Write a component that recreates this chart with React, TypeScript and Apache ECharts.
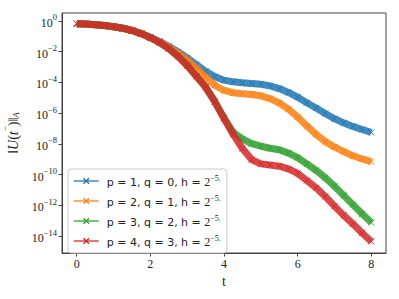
import { useEffect, useRef } from "react";
import * as echarts from "echarts";

// t values (time)
const tValues = [
  0, 0.25, 0.5, 0.75, 1, 1.25, 1.5, 1.75, 2, 2.25, 2.5, 2.75, 3, 3.25, 3.5, 3.75, 4,
  4.25, 4.5, 4.75, 5, 5.25, 5.5, 5.75, 6, 6.25, 6.5, 6.75, 7, 7.25, 7.5, 7.75, 8,
];

// log10 of ||U(t^-)||_A
const blueLog10 = [
  -0.18, -0.2, -0.25, -0.3, -0.37, -0.47, -0.62, -0.82, -1.08, -1.33, -1.65, -2.0, -2.4,
  -2.83, -3.27, -3.62, -3.85, -3.96, -4.02, -4.07, -4.12, -4.22, -4.4, -4.65, -4.96,
  -5.32, -5.66, -6.02, -6.36, -6.63, -6.86, -7.06, -7.25,
];
const orangeLog10 = [
  -0.18, -0.2, -0.25, -0.3, -0.37, -0.47, -0.62, -0.82, -1.08, -1.35, -1.7, -2.1, -2.55,
  -3.08, -3.65, -4.18, -4.52, -4.67, -4.73, -4.78, -4.87, -5.05, -5.33, -5.74, -6.25,
  -6.83, -7.38, -7.85, -8.2, -8.5, -8.77, -8.98, -9.15,
];
const greenLog10 = [
  -0.18, -0.2, -0.25, -0.3, -0.37, -0.47, -0.62, -0.82, -1.08, -1.4, -1.8, -2.3, -2.9,
  -3.6, -4.3, -5.25, -6.3, -7.25, -7.67, -7.98, -8.15, -8.28, -8.38, -8.6, -8.9, -9.3,
  -9.72, -10.2, -10.75, -11.35, -11.95, -12.55, -13.12,
];
const redLog10 = [
  -0.18, -0.2, -0.25, -0.3, -0.37, -0.47, -0.62, -0.82, -1.08, -1.4, -1.8, -2.3, -2.9,
  -3.6, -4.3, -5.25, -6.35, -7.38, -8.3, -9.02, -9.3, -9.37, -9.45, -9.62, -9.92,
  -10.38, -10.85, -11.42, -12.05, -12.65, -13.2, -13.8, -14.35,
];

const pValues = [1, 2, 3, 4];
const qValues = [0, 1, 2, 3];
const hExponent = -5;
const colors = ["#1f77b4", "#ff7f0e", "#2ca02c", "#d62728"];

const xTicks = [0, 2, 4, 6, 8];
const yTicks = [-14, -12, -10, -8, -6, -4, -2, 0];

const seriesNames = pValues.map(
  (p, i) => `p = ${p}, q = ${qValues[i]}, h = 2^${hExponent}.`
);

export default function App() {
  const ref = useRef<HTMLDivElement>(null);
  useEffect(() => {
    const chart = echarts.init(ref.current!, null, { renderer: "svg" });
    const logs = [blueLog10, orangeLog10, greenLog10, redLog10];
    const cross = "path://M0,0L10,10M10,0L0,10";
    const serif = "Liberation Serif";
    const minus = (v: number) => (v < 0 ? "\u2212" + -v : String(v));
    chart.setOption({
      animation: false,
      grid: {
        left: 62,
        right: 13,
        top: 13,
        bottom: 46,
        containLabel: false,
        outerBoundsMode: "none",
        show: true,
        borderColor: "#444",
        borderWidth: 1,
        backgroundColor: "transparent",
      },
      xAxis: {
        type: "value",
        min: -0.4,
        max: 8.4,
        axisLine: { show: true, onZero: false, lineStyle: { color: "#444", width: 1 } },
        splitLine: { show: false },
        axisTick: { show: true, customValues: xTicks, length: 3.5, lineStyle: { color: "#444" } },
        axisLabel: {
          customValues: xTicks,
          fontFamily: serif,
          fontSize: 12,
          color: "#222",
          margin: 5,
        },
        name: "t",
        nameLocation: "middle",
        nameGap: 17,
        nameTextStyle: { fontFamily: serif, fontSize: 14, color: "#222" },
      },
      yAxis: {
        type: "value",
        min: -15.1,
        max: 0.52,
        axisLine: { show: true, onZero: false, lineStyle: { color: "#444", width: 1 } },
        splitLine: { show: false },
        axisTick: { show: true, customValues: yTicks, length: 3.5, lineStyle: { color: "#444" } },
        axisLabel: {
          customValues: yTicks,
          margin: 5,
          formatter: (v: number) => `{b|10}{s|${minus(v)}}`,
          rich: {
            b: { fontFamily: serif, fontSize: 12, color: "#222", lineHeight: 16, verticalAlign: "bottom" },
            s: { fontFamily: serif, fontSize: 8.5, color: "#222", lineHeight: 16, verticalAlign: "top" },
          },
        },
        name: "{n|\u2016}{i|U}{n|(}{i|t}{s|\u2212}{n|)\u2016}{a|A}",
        nameLocation: "middle",
        nameGap: 38,
        nameTextStyle: {
          rich: {
            n: { fontFamily: serif, fontSize: 14, color: "#222", lineHeight: 18, verticalAlign: "bottom" },
            i: { fontFamily: serif, fontStyle: "italic", fontSize: 14, color: "#222", lineHeight: 18, verticalAlign: "bottom" },
            s: { fontFamily: serif, fontSize: 9, color: "#222", lineHeight: 18, verticalAlign: "top" },
            a: { fontFamily: serif, fontStyle: "italic", fontSize: 9, color: "#222", lineHeight: 20, verticalAlign: "bottom" },
          },
        },
      },
      legend: {
        orient: "vertical",
        left: 68,
        top: 169,
        itemWidth: 25,
        itemHeight: 7,
        itemGap: 6,
        padding: [5, 6, 5, 5],
        backgroundColor: "rgba(255,255,255,0.8)",
        borderColor: "#ccc",
        borderWidth: 1,
        borderRadius: 3,
        lineStyle: { width: 1.5 },
        itemStyle: { borderWidth: 1.3 },
        data: seriesNames,
        formatter: (name: string) => {
          const i = seriesNames.indexOf(name);
          return `{t|p = ${pValues[i]}, q = ${qValues[i]}, h = }{m|2}{s|${minus(hExponent)}.}`;
        },
        textStyle: {
          rich: {
            t: { fontFamily: "DejaVu Sans", fontSize: 11, color: "#222", lineHeight: 14, verticalAlign: "bottom", padding: [0, 0, 0, 3] },
            m: { fontFamily: serif, fontSize: 12, color: "#222", lineHeight: 14, verticalAlign: "bottom" },
            s: { fontFamily: serif, fontSize: 8, color: "#222", lineHeight: 14, verticalAlign: "top" },
          },
        },
      },
      series: logs.map((arr, i) => ({
        type: "line",
        name: seriesNames[i],
        data: tValues.map((t, j) => [t, arr[j]]),
        symbol: cross,
        symbolSize: 6,
        showSymbol: true,
        lineStyle: { color: colors[i], width: 7, opacity: 0.85 },
        itemStyle: { color: colors[i], borderColor: colors[i], borderWidth: 1 },
        z: 2 + i,
      })),
    });
    return () => chart.dispose();
  }, []);
  return (
    <div
      ref={ref}
      style={{ position: "fixed", left: 0, top: 0, width: 399, height: 299, background: "#fff" }}
    />
  );
}
